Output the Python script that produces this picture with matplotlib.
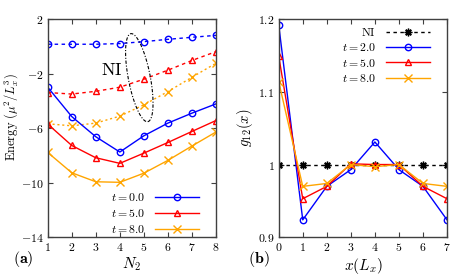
import numpy as np
import matplotlib
matplotlib.use("Agg")
import matplotlib.pyplot as plt
from matplotlib.ticker import FixedLocator, FixedFormatter

plt.rcParams['mathtext.fontset'] = 'cm'
plt.rcParams['font.family'] = ['DejaVu Serif']

# ---------------- data: panel (a) ----------------
N2 = [1, 2, 3, 4, 5, 6, 7, 8]
E_t0 = [-3.0, -5.15, -6.63, -7.75, -6.56, -5.63, -4.9, -4.22]
E_t5 = [-5.7, -7.27, -8.17, -8.58, -7.83, -7.05, -6.24, -5.44]
E_t8 = [-7.78, -9.27, -9.93, -9.97, -9.3, -8.36, -7.31, -6.28]
E_NI_t0 = [0.15, 0.15, 0.15, 0.2, 0.34, 0.51, 0.66, 0.8]
E_NI_t5 = [-3.39, -3.5, -3.3, -3.0, -2.41, -1.75, -1.04, -0.39]
E_NI_t8 = [-5.68, -5.83, -5.63, -5.12, -4.29, -3.32, -2.27, -1.24]
a_labels = [r'$t=0.0$', r'$t=5.0$', r'$t=8.0$']
a_yticks = [2, -2, -6, -10, -14]
a_xticks = [1, 2, 3, 4, 5, 6, 7, 8]

# ---------------- data: panel (b) ----------------
xpos = [0, 1, 2, 3, 4, 5, 6, 7]
g_NI = [1.0, 1.0, 1.0, 1.0, 1.0, 1.0, 1.0, 1.0]
g_t2 = [1.192, 0.924, 0.970, 0.993, 1.031, 0.993, 0.970, 0.924]
g_t5 = [1.149, 0.953, 0.970, 1.001, 1.000, 1.000, 0.970, 0.953]
g_t8 = [1.114, 0.970, 0.974, 1.000, 0.997, 1.000, 0.974, 0.970]
b_labels = [r'$\mathrm{NI}$', r'$t=2.0$', r'$t=5.0$', r'$t=8.0$']
b_yticks = [0.9, 1.0, 1.1, 1.2]
b_yticklabels = [r'$0.9$', r'$1$', r'$1.1$', r'$1.2$']
b_xticks = [0, 1, 2, 3, 4, 5, 6, 7]

BLUE = '#0000ff'
RED = '#ff0000'
ORANGE = '#ffa500'
FRAME = '0.25'

W, H = 463, 275
fig = plt.figure(figsize=(W / 100, H / 100), dpi=100)

def px_axes(l, r, t, b):
    return fig.add_axes([l / W, 1 - b / H, (r - l) / W, (b - t) / H])

axa = px_axes(47.7, 216, 19, 237.3)
axb = px_axes(278.7, 447, 19, 237.3)

for ax in (axa, axb):
    for s in ax.spines.values():
        s.set_color(FRAME)
        s.set_linewidth(1.0)
    ax.tick_params(direction='in', top=True, right=True, length=3.5,
                   width=0.8, color=FRAME, labelsize=8.5, pad=3)

ms = 4.6
mew = 1.0
lw = 1.0
dash = (0, (2.5, 2.5))

# panel (a)
axa.plot(N2, E_NI_t0, color=BLUE, ls=dash, lw=lw, marker='o', ms=ms, mfc='none', mew=mew)
axa.plot(N2, E_NI_t5, color=RED, ls=dash, lw=lw, marker='^', ms=ms, mfc='none', mew=mew)
axa.plot(N2, E_NI_t8, color=ORANGE, ls=(0, (1.5, 2.0)), lw=lw, marker='x', ms=ms + 0.5, mew=mew)
la0, = axa.plot(N2, E_t0, color=BLUE, lw=lw, marker='o', ms=ms, mfc='none', mew=mew, label=a_labels[0])
la5, = axa.plot(N2, E_t5, color=RED, lw=lw, marker='^', ms=ms, mfc='none', mew=mew, label=a_labels[1])
la8, = axa.plot(N2, E_t8, color=ORANGE, lw=lw, marker='x', ms=ms + 0.5, mew=mew, label=a_labels[2])

axa.set_xlim(1, 8)
axa.set_ylim(-14, 2)
axa.xaxis.set_major_locator(FixedLocator(a_xticks))
axa.xaxis.set_major_formatter(FixedFormatter([r'$%d$' % v for v in a_xticks]))
axa.yaxis.set_major_locator(FixedLocator(a_yticks))
axa.yaxis.set_major_formatter(FixedFormatter([r'$%d$' % v for v in a_yticks]))
axa.set_xlabel(r'$N_2$', fontsize=11, labelpad=1)
axa.set_ylabel(r'$\mathrm{Energy}\ (\mu^2/L_x^3)$', fontsize=9)
axa.yaxis.set_label_coords((20 - 47.7) / 168.3, (237.3 - 117) / 218.3)

# ellipse annotation around NI curves
fig.canvas.draw()
cx_px, cy_px = axa.transData.transform((4.81, -2.3))
s = np.linspace(0, 2 * np.pi, 200)
A = np.array([8.5, -44.0])   # major half-axis in px (display, y up)
Bv = np.array([44.0, 8.5]) / np.hypot(44.0, 8.5) * 11.0
px = cx_px + A[0] * np.cos(s) + Bv[0] * np.sin(s)
py = cy_px + A[1] * np.cos(s) + Bv[1] * np.sin(s)
pts = axa.transData.inverted().transform(np.column_stack([px, py]))
axa.plot(pts[:, 0], pts[:, 1], color='black', lw=0.8, ls=(0, (3, 1.5, 1, 1.5)))
axa.text(3.67, -1.73, r'$\mathrm{NI}$', fontsize=13, ha='center', va='center')

axa.legend(handles=[la0, la5, la8], loc='lower right', markerfirst=False,
           frameon=False, fontsize=8.5, handlelength=3.8, handletextpad=0.8,
           labelspacing=0.25, borderaxespad=0.0, bbox_to_anchor=(0.93, -0.015))

# panel (b)
lNI, = axb.plot(xpos, g_NI, color='black', ls=dash, lw=lw, marker=(8, 2, 0), ms=5.5, mew=mew, label=b_labels[0])
lb2, = axb.plot(xpos, g_t2, color=BLUE, lw=lw, marker='o', ms=ms, mfc='none', mew=mew, label=b_labels[1])
lb5, = axb.plot(xpos, g_t5, color=RED, lw=lw, marker='^', ms=ms, mfc='none', mew=mew, label=b_labels[2])
lb8, = axb.plot(xpos, g_t8, color=ORANGE, lw=lw, marker='x', ms=ms + 0.5, mew=mew, label=b_labels[3])
axb.set_xlim(0, 7)
axb.set_ylim(0.9, 1.2)
axb.xaxis.set_major_locator(FixedLocator(b_xticks))
axb.xaxis.set_major_formatter(FixedFormatter([r'$%d$' % v for v in b_xticks]))
axb.yaxis.set_major_locator(FixedLocator(b_yticks))
axb.yaxis.set_major_formatter(FixedFormatter(b_yticklabels))
axb.set_xlabel(r'$x(L_x)$', fontsize=11, labelpad=1)
axb.set_ylabel(r'$g_{12}(x)$', fontsize=10.5, labelpad=2)
axb.legend(handles=[lNI, lb2, lb5, lb8], loc='upper right', markerfirst=False,
           frameon=False, fontsize=8.5, handlelength=3.8, handletextpad=0.8,
           labelspacing=0.2, borderaxespad=0.0, bbox_to_anchor=(0.93, 0.99))

fig.text(13 / W, 1 - 259 / H, r'$\mathbf{(a)}$', fontsize=11.5, ha='left', va='center')
fig.text(248 / W, 1 - 259 / H, r'$\mathbf{(b)}$', fontsize=11.5, ha='left', va='center')

fig.savefig('out.png', dpi=100)
